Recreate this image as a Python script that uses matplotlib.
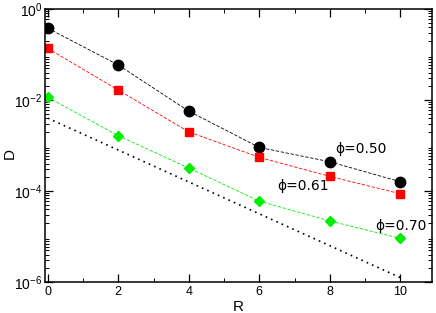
import matplotlib
matplotlib.use("Agg")
import matplotlib.pyplot as plt
from matplotlib.ticker import LogLocator, MultipleLocator, NullFormatter

plt.rcParams['font.family'] = ['Liberation Sans', 'DejaVu Sans']
plt.rcParams['mathtext.fontset'] = 'custom'
plt.rcParams['mathtext.rm'] = 'Liberation Sans'
plt.rcParams['mathtext.it'] = 'Liberation Sans'
plt.rcParams['mathtext.bf'] = 'Liberation Sans'

R = [0, 2, 4, 6, 8, 10]
D_050 = [0.38, 0.059, 0.0057, 9.1e-4, 4.4e-4, 1.6e-4]
D_061 = [0.137, 0.0166, 0.0020, 5.5e-4, 2.1e-4, 8.7e-5]
D_070 = [0.0115, 1.65e-3, 3.2e-4, 6.0e-5, 2.2e-5, 9.1e-6]
R_ref = [0, 10]
D_ref = [4.0e-3, 1.25e-6]
labels = ["\u03d5=0.50", "\u03d5=0.61", "\u03d5=0.70"]

fig = plt.figure(figsize=(4.36, 3.13), dpi=100)
ax = fig.add_axes([0.103, 0.099, 0.888, 0.872])

ax.plot(R, D_050, color='black', ls=(0, (4, 2)), lw=0.6, marker='o', ms=7.5, mfc='black', mec='black')
ax.plot(R, D_061, color='red', ls=(0, (4, 2)), lw=0.6, marker='s', ms=6, mfc='red', mec='red')
ax.plot(R, D_070, color='#00ee00', ls=(0, (4, 2)), lw=0.6, marker='D', ms=5.5, mfc='#00ee00', mec='#00ee00')
ax.plot(R_ref, D_ref, color='black', ls=(0, (1, 2.5)), lw=1.2)

ax.set_yscale('log')
ax.set_xlim(-0.08, 10.9)
ax.set_ylim(1e-6, 1)
ax.xaxis.set_major_locator(MultipleLocator(2))
ax.xaxis.set_minor_locator(MultipleLocator(1))
ax.yaxis.set_minor_locator(LogLocator(base=10, subs=range(2, 10), numticks=20))
ax.yaxis.set_minor_formatter(NullFormatter())
ax.set_yticks([1e-6, 1e-4, 1e-2, 1])
ax.set_yticklabels([r'$10^{-6}$', r'$10^{-4}$', r'$10^{-2}$', r'$10^{0}$'])
ax.tick_params(which='both', direction='in', top=True, right=True)
ax.tick_params(axis='y', labelsize=10, pad=2)
ax.tick_params(axis='x', labelsize=9, pad=3)
ax.tick_params(which='major', length=6, width=0.9)
ax.tick_params(which='minor', length=3, width=0.7)
for sp in ax.spines.values():
    sp.set_linewidth(1.1)

ax.set_xlabel('R', fontsize=11, labelpad=1)
ax.set_ylabel('D', fontsize=11)
ax.yaxis.set_label_coords(-0.072, 0.47)

ax.text(8.15, 4.5e-4 * 1.9, labels[0], fontsize=10, va='center', ha='left', family=['DejaVu Sans'])
ax.text(6.5, 1.3e-4, labels[1], fontsize=10, va='center', ha='left', family=['DejaVu Sans'])
ax.text(9.3, 1.73e-5, labels[2], fontsize=10, va='center', ha='left', family=['DejaVu Sans'])

fig.savefig('out.png', dpi=100)
